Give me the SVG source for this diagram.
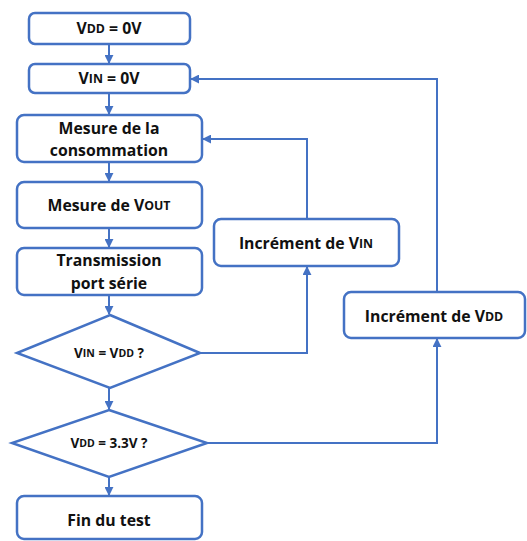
<svg xmlns="http://www.w3.org/2000/svg" width="527" height="541" viewBox="0 0 527 541">
  <defs>
    <marker id="arrow" viewBox="0 0 10 10" refX="9" refY="5" markerWidth="4.5" markerHeight="4.5" orient="auto">
      <path d="M0,0 L10,5 L0,10 z" fill="#4472C4"/>
    </marker>
    <style>
      .box { fill: #ffffff; stroke: #4472C4; stroke-width: 2.5; }
      .dia { fill: #ffffff; stroke: #4472C4; stroke-width: 2.5; }
      .link { fill: none; stroke: #4472C4; stroke-width: 2; marker-end: url(#arrow); }
      .t { font-family: "Open Sans", "Liberation Sans", sans-serif; font-weight: bold; font-size: 15.8px; fill: #111111; text-anchor: middle; dominant-baseline: central; }
      .s { font-family: "Open Sans", "Liberation Sans", sans-serif; font-weight: bold; font-size: 13.5px; fill: #111111; text-anchor: middle; dominant-baseline: central; }
      .sub { font-size: 78%; }
    </style>
  </defs>

  <rect width="527" height="541" fill="#ffffff"/>

  <g id="connectors">
    <line class="link" x1="109" y1="44" x2="109" y2="63"/>
    <line class="link" x1="109" y1="93" x2="109" y2="114"/>
    <line class="link" x1="109" y1="162" x2="109" y2="181"/>
    <line class="link" x1="109" y1="228" x2="109" y2="247"/>
    <line class="link" x1="109" y1="295" x2="109" y2="314"/>
    <line class="link" x1="109" y1="388" x2="109" y2="409"/>
    <line class="link" x1="109" y1="477" x2="109" y2="495"/>
    <polyline class="link" points="200,353 307,353 307,267"/>
    <polyline class="link" points="307,219 307,139 203,139"/>
    <polyline class="link" points="207,443 437,443 437,339"/>
    <polyline class="link" points="437,292 437,79 191,79"/>
  </g>

  <g id="n-vdd0">
    <rect class="box" x="29" y="13" width="161" height="31" rx="6"/>
    <text class="t" x="109" y="28">V<tspan class="sub">DD</tspan> = 0V</text>
  </g>

  <g id="n-vin0">
    <rect class="box" x="29" y="64" width="161" height="29" rx="6"/>
    <text class="t" x="109" y="78">V<tspan class="sub">IN</tspan> = 0V</text>
  </g>

  <g id="n-conso">
    <rect class="box" x="17" y="115" width="185" height="47" rx="7"/>
    <text class="t" x="109" y="128">Mesure de la</text>
    <text class="t" x="109" y="150">consommation</text>
  </g>

  <g id="n-vout">
    <rect class="box" x="17" y="182" width="185" height="46" rx="7"/>
    <text class="t" x="109" y="205">Mesure de V<tspan class="sub">OUT</tspan></text>
  </g>

  <g id="n-serial">
    <rect class="box" x="17" y="248" width="185" height="47" rx="7"/>
    <text class="t" x="109" y="260">Transmission</text>
    <text class="t" x="109" y="283">port série</text>
  </g>

  <g id="n-test-vin">
    <polygon class="dia" points="110,315 200,353 110,388 17,353"/>
    <text class="s" x="109" y="353">V<tspan class="sub">IN</tspan> = V<tspan class="sub">DD</tspan> ?</text>
  </g>

  <g id="n-test-vdd">
    <polygon class="dia" points="109,410 207,443 109,477 12,443"/>
    <text class="s" x="109" y="443">V<tspan class="sub">DD</tspan> = 3.3V ?</text>
  </g>

  <g id="n-end">
    <rect class="box" x="17" y="496" width="185" height="43" rx="7"/>
    <text class="t" x="109" y="520">Fin du test</text>
  </g>

  <g id="n-inc-vin">
    <rect class="box" x="214" y="219" width="185" height="47" rx="7"/>
    <text class="t" x="306" y="243">Incrément de V<tspan class="sub">IN</tspan></text>
  </g>

  <g id="n-inc-vdd">
    <rect class="box" x="344" y="292" width="181" height="46" rx="7"/>
    <text class="t" x="434" y="316">Incrément de V<tspan class="sub">DD</tspan></text>
  </g>
</svg>
